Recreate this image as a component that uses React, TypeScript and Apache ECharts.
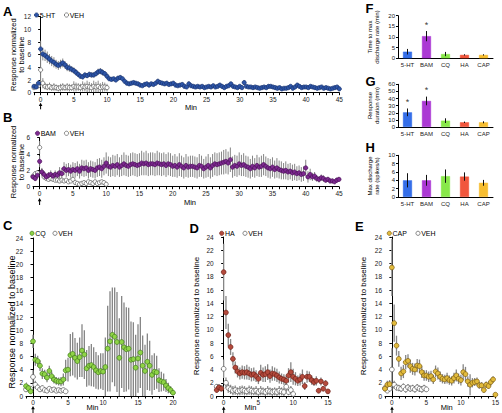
import React, { useEffect, useRef } from 'react';
import * as echarts from 'echarts';

const FONT = '"Liberation Sans", Arial, Helvetica, sans-serif';
const STEP = 1 / 3; // 20-s bins

// ---------- Panel A: 5-HT vs VEH (t from -1 min) ----------
const A_HT = [
  1.0, 0.9, 1.5, 6.9, 6.1, 5.9, 5.6, 5.3, 5.0, 4.8, 4.5, 4.3, 4.5, 4.7, 4.4, 4.0, 3.9, 3.7,
  3.5, 3.2, 2.9, 2.6, 2.5, 2.8, 2.7, 2.9, 2.8, 2.8, 3.0, 3.3, 3.4, 3.2, 3.0, 2.6, 2.2, 2.1,
  2.2, 2.0, 2.3, 2.4, 2.2, 1.8, 1.5, 1.4, 1.5, 1.6, 1.5, 1.4, 1.2, 1.1, 1.3, 1.4, 1.2, 1.4,
  1.3, 1.5, 1.8, 1.6, 1.5, 1.4, 1.5, 1.3, 1.4, 1.5, 1.2, 1.1, 1.2, 1.3, 1.0, 0.9, 1.4, 1.1,
  1.0, 0.9, 1.0, 0.9, 1.0, 0.8, 0.9, 1.0, 0.9, 1.1, 0.9, 1.0, 1.2, 1.0, 0.8, 1.0, 1.1, 1.4,
  1.0, 0.9, 0.8, 1.0, 0.8, 1.6, 1.0, 0.9, 0.9, 0.8, 0.9, 0.8, 0.7, 0.8, 0.9, 0.8, 1.0, 1.0,
  0.9, 0.8, 0.7, 0.8, 0.6, 0.7, 0.7, 0.8, 1.0, 0.7, 0.9, 1.2, 1.0, 0.8, 0.9, 0.9, 0.8, 1.0,
  0.9, 0.8, 0.7, 0.8, 0.9, 0.7, 0.8, 0.7, 0.6, 0.7, 0.8, 0.9, 0.6,
];
const A_HT_ERR = [
  0.3, 0.3, 0.5, 1.3, 1.0, 0.9, 0.9, 0.8, 0.8, 0.8, 0.7, 0.7, 0.7, 0.7, 0.6, 0.6, 0.6, 0.5,
  0.5, 0.5, 0.4, 0.4, 0.4, 0.4, 0.4, 0.4, 0.4, 0.4, 0.4, 0.5, 0.5, 0.5, 0.4, 0.4, 0.3, 0.3,
  0.3, 0.3, 0.3, 0.4, 0.3, 0.3, 0.3, 0.3, 0.3, 0.3, 0.3, 0.3, 0.2, 0.2, 0.3, 0.3, 0.2, 0.3,
  0.3, 0.3, 0.4, 0.3, 0.3, 0.3, 0.3, 0.2, 0.3, 0.3, 0.2, 0.2, 0.2, 0.3, 0.2, 0.2, 0.4, 0.2,
  0.2, 0.2, 0.2, 0.2, 0.2, 0.2, 0.2, 0.2, 0.2, 0.2, 0.2, 0.2, 0.3, 0.2, 0.2, 0.2, 0.2, 0.3,
  0.2, 0.2, 0.2, 0.2, 0.2, 0.4, 0.2, 0.2, 0.2, 0.2, 0.2, 0.2, 0.2, 0.2, 0.2, 0.2, 0.3, 0.2,
  0.2, 0.2, 0.2, 0.2, 0.2, 0.2, 0.2, 0.2, 0.2, 0.2, 0.2, 0.3, 0.2, 0.2, 0.2, 0.2, 0.2, 0.2,
  0.2, 0.2, 0.2, 0.2, 0.2, 0.2, 0.2, 0.2, 0.2, 0.2, 0.2, 0.2, 0.2,
];
const A_VEH = [
  0.8, 1.0, 1.1, 3.6, 1.5, 1.0, 0.9, 1.0, 0.8, 0.9, 0.8, 0.7, 0.8, 0.9, 0.8, 0.9, 0.8, 0.8,
  1.0, 0.9, 0.9, 0.8, 1.0, 0.9, 1.0, 0.9, 0.8, 1.0, 0.9, 1.0, 0.8, 0.9, 0.9, 0.8,
];
const A_VEH_ERR = [
  0.3, 0.3, 0.4, 2.2, 0.8, 0.5, 0.5, 0.6, 0.5, 0.6, 0.5, 0.5, 0.6, 0.6, 0.5, 0.6, 0.6, 0.5,
  0.8, 0.7, 0.6, 0.6, 0.8, 0.7, 0.9, 0.8, 0.7, 0.9, 0.8, 0.9, 0.7, 0.8, 0.7, 0.6,
];

// ---------- Panel B: BAM vs VEH ----------
const B_BAM = [
  1.2, 1.0, 1.4, 3.1, 1.8, 1.5, 1.2, 1.4, 1.5, 1.3, 1.5, 1.4, 1.7, 1.6, 2.2, 2.0, 2.1, 1.9,
  2.1, 2.0, 2.2, 1.9, 2.3, 2.2, 2.3, 2.0, 2.2, 2.1, 2.0, 2.3, 2.4, 2.2, 2.5, 2.9, 2.5, 2.4,
  2.6, 2.5, 2.7, 2.4, 2.6, 2.8, 2.6, 2.5, 2.7, 2.8, 2.7, 2.6, 2.7, 2.9, 2.8, 2.9, 2.7, 2.8,
  2.8, 2.7, 2.9, 2.8, 2.7, 2.8, 2.6, 2.8, 2.7, 2.5, 2.6, 2.4, 2.7, 2.5, 2.3, 2.6, 2.4, 2.5,
  2.5, 2.4, 2.3, 2.6, 2.5, 2.2, 2.4, 2.6, 2.3, 2.6, 2.8, 2.7, 2.8, 2.9, 3.0, 3.1, 2.9, 3.3,
  2.4, 2.6, 2.5, 2.8, 2.6, 2.7, 2.5, 2.4, 2.2, 2.5, 2.3, 2.6, 2.4, 2.5, 2.7, 2.5, 2.3, 2.2,
  2.4, 2.1, 2.3, 2.1, 2.0, 1.9, 2.0, 1.8, 1.9, 1.7, 1.8, 1.6, 1.7, 1.5, 1.6, 2.3, 1.2, 1.5,
  1.2, 1.3, 1.0, 0.9, 1.1, 1.0, 0.8, 0.9, 0.7, 0.7, 0.6, 0.8, 0.9,
];
const B_BAM_ERR = [
  0.3, 0.3, 0.4, 0.7, 0.5, 0.4, 0.4, 0.4, 0.5, 0.4, 0.5, 0.5, 0.7, 0.7, 0.8, 0.8, 0.8, 0.8,
  0.9, 0.9, 0.9, 0.9, 1.0, 1.0, 1.0, 1.0, 1.0, 1.0, 1.0, 1.1, 1.1, 1.1, 1.1, 1.3, 1.2, 1.2,
  1.3, 1.3, 1.3, 1.2, 1.3, 1.4, 1.3, 1.3, 1.4, 1.4, 1.4, 1.4, 1.4, 1.5, 1.4, 1.5, 1.4, 1.4,
  1.4, 1.4, 1.5, 1.4, 1.4, 1.4, 1.4, 1.4, 1.4, 1.3, 1.4, 1.3, 1.4, 1.3, 1.3, 1.4, 1.3, 1.3,
  1.3, 1.3, 1.3, 1.4, 1.3, 1.2, 1.3, 1.4, 1.3, 1.4, 1.4, 1.4, 1.4, 1.4, 1.5, 1.5, 1.4, 1.5,
  1.3, 1.3, 1.3, 1.4, 1.3, 1.4, 1.3, 1.3, 1.2, 1.3, 1.2, 1.3, 1.2, 1.3, 1.3, 1.2, 1.2, 1.2,
  1.2, 1.1, 1.2, 1.1, 1.1, 1.0, 1.1, 1.0, 1.0, 1.0, 1.0, 0.9, 0.9, 0.9, 0.9, 1.0, 0.7, 0.7,
  0.5, 0.5, 0.4, 0.4, 0.4, 0.4, 0.3, 0.3, 0.3, 0.3, 0.2, 0.3, 0.3,
];
const B_VEH = [
  1.3, 1.6, 1.7, 4.8, 1.8, 1.2, 1.0, 0.9, 1.0, 0.9, 0.8, 0.8, 0.7, 0.8, 0.7, 0.8, 0.6, 0.7,
  0.9, 0.5, 0.4, 0.3, 0.4, 0.5, 0.4, 0.6, 0.5, 0.4, 0.6, 0.4, 0.5, 0.6, 0.5, 0.3,
];
const B_VEH_ERR = [
  0.3, 0.3, 0.3, 0.8, 0.4, 0.3, 0.2, 0.2, 0.3, 0.2, 0.2, 0.2, 0.2, 0.2, 0.2, 0.2, 0.2, 0.2,
  0.3, 0.2, 0.2, 0.2, 0.2, 0.2, 0.2, 0.2, 0.2, 0.2, 0.2, 0.2, 0.2, 0.2, 0.2, 0.2,
];

// ---------- Panel C: CQ vs VEH ----------
const C_CQ = [
  1.5, 1.2, 0.7, 8.3, 5.5, 5.3, 4.6, 3.4, 3.3, 2.8, 3.8, 3.0, 2.5, 2.3, 2.2, 2.2, 2.5, 3.9,
  4.0, 6.2, 6.4, 5.8, 5.3, 5.9, 6.9, 6.3, 4.2, 4.6, 4.7, 4.4, 3.9, 3.6, 3.8, 3.7, 4.4, 7.2,
  8.3, 9.3, 9.0, 8.2, 5.8, 8.2, 7.4, 7.1, 7.2, 5.5, 5.6, 4.3, 5.7, 6.6, 4.6, 3.8, 5.2, 4.6,
  3.2, 3.7, 3.6, 2.4, 2.2, 2.1, 1.6, 1.2, 0.9, 0.5,
];
const C_CQ_ERR = [
  0.6, 0.5, 0.4, 1.0, 0.9, 0.8, 0.8, 0.8, 0.7, 0.7, 0.8, 0.7, 0.6, 0.6, 0.6, 0.7, 0.9, 1.6,
  1.8, 3.2, 3.3, 3.0, 2.8, 3.0, 4.0, 3.7, 2.8, 3.0, 3.2, 3.0, 2.8, 2.6, 2.7, 2.8, 4.5, 6.5,
  7.6, 7.2, 7.5, 7.6, 6.0, 7.0, 6.8, 6.4, 6.2, 5.8, 5.6, 5.0, 5.2, 5.4, 4.6, 4.0, 4.3, 3.8,
  3.0, 2.8, 2.5, 1.8, 1.5, 1.3, 1.0, 0.8, 0.6, 0.4,
];
const C_VEH = [1.0, 1.2, 1.1, 2.9, 1.7, 1.3, 1.0, 1.2, 0.9, 0.8, 1.1, 0.9, 1.0, 0.8, 0.9, 0.8, 0.9, 0.7];
const C_VEH_ERR = [0.4, 0.4, 0.4, 1.0, 0.6, 0.4, 0.3, 0.4, 0.3, 0.3, 0.3, 0.3, 0.3, 0.3, 0.3, 0.3, 0.3, 0.3];

// ---------- Panel D: HA vs VEH ----------
const D_HA = [
  0.9, 1.3, 1.1, 18.7, 12.6, 9.2, 7.4, 5.6, 4.3, 3.7, 3.4, 3.6, 3.5, 3.6, 3.4, 3.2, 3.3, 3.0,
  2.6, 3.5, 3.2, 3.3, 3.6, 3.0, 3.4, 3.3, 3.1, 2.8, 2.6, 2.5, 2.3, 3.1, 3.6, 2.9, 2.6, 2.3,
  2.5, 2.9, 1.5, 2.9, 2.9, 2.4, 2.1, 2.3, 0.8, 2.2, 1.1, 1.9, 0.7,
];
const D_HA_ERR = [
  0.4, 0.4, 0.4, 4.3, 2.5, 1.7, 1.2, 1.0, 0.9, 0.9, 0.9, 1.0, 1.0, 1.1, 1.0, 1.0, 1.0, 0.9,
  0.8, 1.2, 1.1, 1.2, 1.2, 1.0, 1.1, 1.0, 1.0, 0.9, 0.8, 0.8, 0.8, 1.1, 1.5, 1.2, 1.0, 0.8,
  0.9, 1.1, 0.6, 0.9, 0.8, 0.7, 0.6, 0.7, 0.4, 0.6, 0.4, 0.5, 0.3,
];
const D_VEH = [
  1.4, 1.3, 1.2, 4.1, 2.0, 1.2, 1.0, 0.8, 0.9, 0.7, 0.8, 0.9, 0.8, 0.7, 0.9, 0.8, 0.7, 0.8,
  0.6, 0.8, 0.7, 0.6, 0.8, 0.7, 0.6, 0.7, 0.6, 0.8, 0.7, 0.6, 1.4, 0.6, 0.9, 0.3,
];
const D_VEH_ERR = [
  0.4, 0.4, 0.4, 1.4, 0.8, 0.7, 0.7, 0.7, 0.7, 0.6, 0.7, 0.7, 0.7, 0.6, 0.7, 0.7, 0.6, 0.7,
  0.6, 0.7, 0.6, 0.6, 0.7, 0.6, 0.6, 0.6, 0.6, 0.7, 0.6, 0.6, 0.8, 0.5, 0.6, 0.3,
];

// ---------- Panel E: CAP vs VEH ----------
const E_CAP = [
  1.1, 1.7, 1.8, 19.4, 11.0, 7.6, 5.6, 3.4, 3.7, 5.1, 5.3, 4.5, 4.1, 4.0, 4.6, 4.5, 3.6, 3.1,
  3.1, 2.9, 3.0, 2.5, 3.7, 3.4, 2.9, 2.6, 2.5, 2.7, 2.4, 2.3, 2.7, 3.1, 2.6, 2.4, 3.6, 3.3,
  2.2, 1.7, 2.0, 2.1, 2.2, 1.6, 1.6, 0.9, 1.7, 1.5, 2.1, 2.5, 0.2,
];
const E_CAP_ERR = [
  0.5, 0.6, 0.6, 4.3, 2.8, 1.5, 1.2, 1.0, 1.0, 1.1, 1.0, 1.0, 0.9, 0.9, 1.0, 1.0, 0.9, 0.8,
  0.8, 0.8, 0.8, 0.7, 0.9, 0.9, 0.8, 0.7, 0.7, 0.8, 0.7, 0.7, 0.8, 0.9, 0.8, 0.8, 1.2, 1.1,
  0.8, 1.6, 0.7, 0.6, 0.6, 0.5, 0.5, 0.4, 0.5, 0.4, 0.5, 0.5, 0.2,
];
const E_VEH = [1.2, 0.8, 1.1, 4.0, 1.7, 1.3, 1.2, 1.1, 1.4, 1.0, 1.3, 1.1, 1.2, 1.0, 1.3, 1.1, 1.0, 1.2, 1.0];
const E_VEH_ERR = [0.3, 0.3, 0.3, 3.2, 0.6, 0.5, 0.5, 0.5, 0.5, 0.5, 0.5, 0.5, 0.5, 0.5, 0.5, 0.5, 0.5, 0.5, 0.4];

// ---------- Bar panels F, G, H ----------
const CATS = ['5-HT', 'BAM', 'CQ', 'HA', 'CAP'];
const BAR_COLORS = ['#2462e6', '#a428d0', '#7ee63a', '#f0482c', '#f6b820'];
const F_VALS = [3.1, 10.4, 2.0, 1.6, 1.6];
const F_ERR = [1.3, 2.4, 1.0, 0.3, 0.3];
const F_STARS = [[1, 15.8]];
const G_VALS = [20.6, 36.6, 8.9, 6.6, 6.6];
const G_ERR = [5.4, 6.1, 3.3, 1.0, 1.4];
const G_STARS = [[0, 34.5], [1, 52.5]];
const H_VALS = [4.0, 4.0, 5.0, 4.9, 3.4];
const H_ERR = [1.7, 1.3, 1.6, 1.0, 0.7];

const VEH_STYLE = { color: '#ffffff', border: '#555555' };

const LINE_PANELS = [
  { grid: { left: 34, top: 16.7, width: 305.3, height: 76 }, xmax: 45, ymax: 12, size: 4.2, errW: 1,
    drug: { name: '5-HT', vals: A_HT, err: A_HT_ERR, color: '#2d55a8', border: '#1a336e' },
    veh: { vals: A_VEH, err: A_VEH_ERR } },
  { grid: { left: 33, top: 137.7, width: 306, height: 49 }, xmax: 45, ymax: 6, size: 4.2, errW: 1,
    drug: { name: 'BAM', vals: B_BAM, err: B_BAM_ERR, color: '#7d2a90', border: '#4b1058' },
    veh: { vals: B_VEH, err: B_VEH_ERR } },
  { grid: { left: 26, top: 238, width: 147, height: 158 }, xmax: 20, ymax: 24, size: 4.8, errW: 1.3,
    drug: { name: 'CQ', vals: C_CQ, err: C_CQ_ERR, color: '#8fd447', border: '#3f7a1a' },
    veh: { vals: C_VEH, err: C_VEH_ERR } },
  { grid: { left: 216.7, top: 237, width: 111.2, height: 159 }, xmax: 15, ymax: 24, size: 4.8, errW: 1.3,
    drug: { name: 'HA', vals: D_HA, err: D_HA_ERR, color: '#b44a3c', border: '#6e2118' },
    veh: { vals: D_VEH, err: D_VEH_ERR } },
  { grid: { left: 385, top: 237, width: 111.7, height: 159 }, xmax: 15, ymax: 24, size: 4.8, errW: 1.3,
    drug: { name: 'CAP', vals: E_CAP, err: E_CAP_ERR, color: '#e2bb3c', border: '#7a5a10' },
    veh: { vals: E_VEH, err: E_VEH_ERR } },
];

const BAR_PANELS = [
  { grid: { left: 398, top: 15.7, width: 95, height: 42.6 }, max: 20, interval: 5, vals: F_VALS, err: F_ERR, stars: F_STARS },
  { grid: { left: 398, top: 84.3, width: 95, height: 42.7 }, max: 60, interval: 10, vals: G_VALS, err: G_ERR, stars: G_STARS },
  { grid: { left: 398, top: 155.3, width: 95, height: 41.7 }, max: 10, interval: 2, vals: H_VALS, err: H_ERR, stars: [] as number[][] },
];

const toPoints = (vals: number[]) => vals.map((v, i) => [-1 + i * STEP, v]);
const toErr = (vals: number[], err: number[]) =>
  vals.map((v, i) => [-1 + i * STEP, Math.max(0, v - (err[i] ?? 0)), v + (err[i] ?? 0)]);

const errRender = (color: string, width: number) => (params: any, api: any) => {
  const x = api.value(0);
  const a = api.coord([x, api.value(1)]);
  const b = api.coord([x, api.value(2)]);
  return { type: 'line', shape: { x1: a[0], y1: a[1], x2: b[0], y2: b[1] }, style: { stroke: color, lineWidth: width } };
};

function txt(x: number, y: number, text: string, size: number, opts: any = {}) {
  return {
    type: 'text', x, y, rotation: opts.rotation || 0, silent: true, z: 10,
    style: {
      text, fontSize: size, fontFamily: FONT, fontWeight: opts.bold ? 'bold' : 'normal',
      fill: '#000', lineHeight: opts.lineHeight || size * 1.15,
      align: opts.align || 'center', verticalAlign: 'middle',
      textAlign: opts.align || 'center', textVerticalAlign: 'middle',
    },
  };
}
function arrow(x: number, y1: number, y2: number) {
  return [
    { type: 'line', silent: true, shape: { x1: x, y1: y1 + 2, x2: x, y2 }, style: { stroke: '#000', lineWidth: 1 } },
    { type: 'polygon', silent: true, shape: { points: [[x, y1], [x - 1.8, y1 + 3.2], [x + 1.8, y1 + 3.2]] }, style: { fill: '#000' } },
  ];
}
function legendItem(cx: number, cy: number, label: string, fill: string, stroke: string) {
  return [
    { type: 'circle', silent: true, shape: { cx, cy, r: 2.1 }, style: { fill, stroke, lineWidth: 0.7 } },
    txt(cx + 3.2, cy, label, 7, { align: 'left' }),
  ];
}

function buildOption() {
  const grid: any[] = [];
  const xAxis: any[] = [];
  const yAxis: any[] = [];
  const series: any[] = [];
  const axisLine = { show: true, lineStyle: { color: '#000', width: 1 } };
  const axisTick = { show: true, length: 2.5, lineStyle: { color: '#000', width: 1 } };

  LINE_PANELS.forEach((p, i) => {
    grid.push({ ...p.grid, containLabel: false });
    xAxis.push({
      type: 'value', gridIndex: i, min: -1, max: p.xmax, interval: 1,
      axisLine, axisTick, splitLine: { show: false },
      axisLabel: {
        fontSize: 6.5, fontFamily: FONT, color: '#222', margin: 3,
        formatter: (v: number) => (v >= 0 && Math.abs(v % 5) < 1e-6 ? String(v) : ''),
      },
    });
    yAxis.push({
      type: 'value', gridIndex: i, min: 0, max: p.ymax, interval: 2,
      axisLine, axisTick, splitLine: { show: false },
      axisLabel: { fontSize: 6.5, fontFamily: FONT, color: '#222', margin: 3 },
    });
    series.push(
      { type: 'custom', name: 'err-veh-' + i, xAxisIndex: i, yAxisIndex: i, renderItem: errRender('#8e8e8e', p.errW),
        data: toErr(p.veh.vals, p.veh.err), encode: { x: 0, y: [1, 2] }, clip: true, silent: true, z: 1 },
      { type: 'custom', name: 'err-drug-' + i, xAxisIndex: i, yAxisIndex: i, renderItem: errRender('#858585', p.errW),
        data: toErr(p.drug.vals, p.drug.err), encode: { x: 0, y: [1, 2] }, clip: true, silent: true, z: 1 },
      { type: 'scatter', name: 'VEH', xAxisIndex: i, yAxisIndex: i, data: toPoints(p.veh.vals), symbol: 'circle',
        symbolSize: p.size, itemStyle: { color: VEH_STYLE.color, borderColor: VEH_STYLE.border, borderWidth: 0.7, opacity: 1 },
        silent: true, z: 3 },
      { type: 'scatter', name: p.drug.name, xAxisIndex: i, yAxisIndex: i, data: toPoints(p.drug.vals), symbol: 'circle',
        symbolSize: p.size, itemStyle: { color: p.drug.color, borderColor: p.drug.border, borderWidth: 0.7, opacity: 1 },
        silent: true, z: 4 },
    );
  });

  BAR_PANELS.forEach((p, j) => {
    const i = LINE_PANELS.length + j;
    grid.push({ ...p.grid, containLabel: false });
    xAxis.push({
      type: 'category', gridIndex: i, data: CATS, axisLine, axisTick: { show: false },
      axisLabel: { fontSize: 6, fontFamily: FONT, color: '#222', margin: 4, interval: 0 },
    });
    yAxis.push({
      type: 'value', gridIndex: i, min: 0, max: p.max, interval: p.interval,
      axisLine, axisTick: { ...axisTick, length: 2 }, splitLine: { show: false },
      axisLabel: { fontSize: 6, fontFamily: FONT, color: '#222', margin: 3 },
    });
    series.push(
      { type: 'bar', xAxisIndex: i, yAxisIndex: i, barWidth: 9, silent: true, z: 2,
        data: p.vals.map((v, k) => ({ value: v, itemStyle: { color: BAR_COLORS[k], borderColor: BAR_COLORS[k], borderWidth: 0.5, opacity: 0.92 } })) },
      { type: 'custom', xAxisIndex: i, yAxisIndex: i, renderItem: errRender('#111', 1), silent: true, z: 3,
        data: p.vals.map((v, k) => [k, v - p.err[k], v + p.err[k]]), encode: { x: 0, y: [1, 2] } },
      { type: 'scatter', xAxisIndex: i, yAxisIndex: i, data: p.stars, symbolSize: 1, silent: true, z: 4,
        itemStyle: { color: 'rgba(0,0,0,0)' },
        label: { show: true, position: 'inside', formatter: '*', fontSize: 9, fontFamily: FONT, color: '#000' } },
    );
  });

  const graphic: any[] = [
    // panel letters
    txt(3, 11, 'A', 13, { bold: true, align: 'left' }),
    txt(3, 117.5, 'B', 13, { bold: true, align: 'left' }),
    txt(3, 225, 'C', 13, { bold: true, align: 'left' }),
    txt(189.5, 228.5, 'D', 13, { bold: true, align: 'left' }),
    txt(355, 226.7, 'E', 13, { bold: true, align: 'left' }),
    txt(365.5, 8, 'F', 13, { bold: true, align: 'left' }),
    txt(365.5, 81, 'G', 13, { bold: true, align: 'left' }),
    txt(365.5, 147.5, 'H', 13, { bold: true, align: 'left' }),
    // y-axis names
    txt(17.5, 54.7, 'Response normalized\nto baseline', 7.5, { rotation: Math.PI / 2, lineHeight: 8.5 }),
    txt(17.5, 162, 'Response normalized\nto baseline', 7.5, { rotation: Math.PI / 2, lineHeight: 8.5 }),
    txt(12, 322, 'Response normalized to baseline', 9, { rotation: Math.PI / 2 }),
    txt(196.7, 316, 'Response normalized to baseline', 8, { rotation: Math.PI / 2 }),
    txt(363.3, 316, 'Response normalized to baseline', 8, { rotation: Math.PI / 2 }),
    txt(373.5, 37, 'Time to max\ndischarge rate (min)', 6, { rotation: Math.PI / 2, lineHeight: 6.5 }),
    txt(373.5, 105.5, 'Response\nduration (min)', 6, { rotation: Math.PI / 2, lineHeight: 6.5 }),
    txt(373.5, 176, 'Max discharge\nrate (spikes/s)', 6, { rotation: Math.PI / 2, lineHeight: 6.5 }),
    // x-axis names
    txt(191, 107, 'Min', 7.5),
    txt(190, 202, 'Min', 7.5),
    txt(92.5, 407, 'Min', 7.5),
    txt(250.5, 407.5, 'Min', 7.5),
    txt(446.7, 407.5, 'Min', 7.5),
    // arrows (drug application at t = 0)
    ...arrow(40.6, 102.7, 109.3),
    ...arrow(39.6, 198, 205),
    ...arrow(33, 406, 413),
    ...arrow(223.7, 406.5, 413),
    ...arrow(392, 406.5, 413),
    // legends
    ...legendItem(36.5, 15, '5-HT', '#2d55a8', '#1a336e'),
    ...legendItem(66.5, 15, 'VEH', '#fff', '#555'),
    ...legendItem(37.5, 133.3, 'BAM', '#7d2a90', '#4b1058'),
    ...legendItem(66.5, 133.3, 'VEH', '#fff', '#555'),
    ...legendItem(32, 233.3, 'CQ', '#8fd447', '#3f7a1a'),
    ...legendItem(55, 233.3, 'VEH', '#fff', '#555'),
    ...legendItem(221.7, 233.3, 'HA', '#b44a3c', '#6e2118'),
    ...legendItem(245, 233.3, 'VEH', '#fff', '#555'),
    ...legendItem(389.3, 233.3, 'CAP', '#e2bb3c', '#7a5a10'),
    ...legendItem(418, 233.3, 'VEH', '#fff', '#555'),
  ];

  return { animation: false, backgroundColor: '#ffffff', grid, xAxis, yAxis, series, graphic };
}

export default function App() {
  const ref = useRef<HTMLDivElement>(null);
  useEffect(() => {
    const chart = echarts.init(ref.current as HTMLDivElement, null, { renderer: 'svg' });
    chart.setOption(buildOption() as any);
    return () => chart.dispose();
  }, []);
  return <div ref={ref} style={{ position: 'fixed', left: 0, top: 0, width: 502, height: 413, background: '#fff' }} />;
}
